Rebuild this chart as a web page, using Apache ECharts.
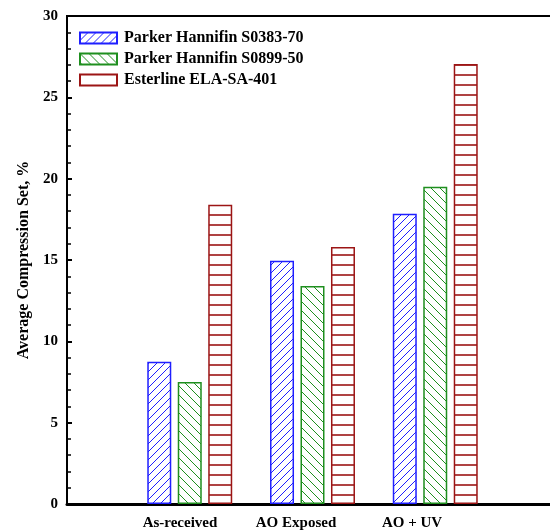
<!DOCTYPE html>
<html>
<head>
<meta charset="utf-8">
<script src="https://cdn.jsdelivr.net/npm/echarts@6/dist/echarts.min.js"></script>
<style>html,body{margin:0;padding:0;background:#fff}#c{width:550px;height:531px}</style>
</head>
<body>
<div id="c"></div>
<script>
const categories = ['As-received', 'AO Exposed', 'AO + UV'];
const seriesNames = ['Parker Hannifin S0383-70', 'Parker Hannifin S0899-50', 'Esterline ELA-SA-401'];
const parkerS0383 = [8.75, 14.95, 17.85];
const parkerS0899 = [7.5, 13.4, 19.5];
const esterline = [18.4, 15.8, 27.05];
const yMin = 0, yMax = 30, yInterval = 5;

const FONT = '"Liberation Serif", "Times New Roman", serif';
const BLUE = '#1f1fff', GREEN = '#1f8f1f', RED = '#9c1515';

function hatch(kind, color) {
  const c = document.createElement('canvas');
  const ctx = c.getContext('2d');
  if (kind === 'h') {
    c.width = 4; c.height = 10;
    ctx.fillStyle = '#fff'; ctx.fillRect(0, 0, 4, 10);
    ctx.strokeStyle = color; ctx.lineWidth = 1.6;
    ctx.beginPath(); ctx.moveTo(0, 5); ctx.lineTo(4, 5); ctx.stroke();
  } else {
    const s = kind === 'f' ? 8 : 9;
    c.width = s; c.height = s;
    ctx.fillStyle = '#fff'; ctx.fillRect(0, 0, s, s);
    ctx.strokeStyle = color; ctx.lineWidth = 1;
    ctx.beginPath();
    if (kind === 'f') {
      ctx.moveTo(-1, s + 1); ctx.lineTo(s + 1, -1);
      ctx.moveTo(-1, 1); ctx.lineTo(1, -1);
      ctx.moveTo(s - 1, s + 1); ctx.lineTo(s + 1, s - 1);
    } else {
      ctx.moveTo(-1, -1); ctx.lineTo(s + 1, s + 1);
      ctx.moveTo(s - 1, -1); ctx.lineTo(s + 1, 1);
      ctx.moveTo(-1, s - 1); ctx.lineTo(1, s + 1);
    }
    ctx.stroke();
  }
  return { image: c, repeat: 'repeat' };
}

const axisCats = [''].concat(categories, ['']);
function pad(arr) { return ['-'].concat(arr, ['-']); }

const chart = echarts.init(document.getElementById('c'), null, { renderer: 'canvas' });
chart.setOption({
  backgroundColor: '#fff',
  animation: false,
  grid: [
    { left: 67, width: 491, top: 16, bottom: 27, containLabel: false, outerBoundsMode: 'none', show: true, borderColor: '#000', borderWidth: 2, backgroundColor: 'transparent' },
    { left: 64, width: 464, top: 16, bottom: 27, containLabel: false, outerBoundsMode: 'none', show: false }
  ],
  legend: {
    orient: 'vertical', left: 74, top: 25,
    icon: 'rect',
    itemWidth: 37, itemHeight: 11, itemGap: 5,
    textStyle: { fontFamily: FONT, fontWeight: 'bold', fontSize: 16, color: '#000', padding: [0, 0, 0, 2] },
    data: [
      { name: seriesNames[0] },
      { name: seriesNames[1] },
      { name: seriesNames[2], itemStyle: { color: '#fff' } }
    ]
  },
  xAxis: [
    {
      type: 'category', gridIndex: 0, data: axisCats, boundaryGap: false,
      axisLine: { lineStyle: { color: '#000', width: 3 } },
      axisTick: { show: false }, axisLabel: { show: false }, splitLine: { show: false }
    },
    {
      type: 'category', gridIndex: 1, data: axisCats, boundaryGap: false,
      axisLine: { show: false }, axisTick: { show: false }, splitLine: { show: false },
      axisLabel: { show: true, interval: 0, margin: 12, fontFamily: FONT, fontWeight: 'bold', fontSize: 15, color: '#000' }
    }
  ],
  yAxis: [
    {
      type: 'value', gridIndex: 0, min: yMin, max: yMax, interval: yInterval,
      name: 'Average Compression Set, %', nameLocation: 'middle', nameGap: 32, nameRotate: 90,
      nameTextStyle: { fontFamily: FONT, fontWeight: 'bold', fontSize: 16, color: '#000' },
      axisLine: { show: true, lineStyle: { color: '#000', width: 2 } },
      axisTick: { show: true, inside: true, length: 5, lineStyle: { color: '#000', width: 2 } },
      minorTick: { show: true, splitNumber: 5, length: 4, lineStyle: { color: '#000', width: 1.5 } },
      axisLabel: { margin: 9, fontFamily: FONT, fontWeight: 'bold', fontSize: 15, color: '#000' },
      splitLine: { show: false }
    },
    {
      type: 'value', gridIndex: 1, min: yMin, max: yMax, show: false
    }
  ],
  series: [
    {
      name: seriesNames[0], type: 'bar', xAxisIndex: 0, yAxisIndex: 0, data: pad(parkerS0383),
      barWidth: 24, barGap: '27%',
      itemStyle: { color: hatch('f', BLUE), borderColor: BLUE, borderWidth: 1.5 }
    },
    {
      name: seriesNames[1], type: 'bar', xAxisIndex: 0, yAxisIndex: 0, data: pad(parkerS0899),
      barWidth: 24, barGap: '27%',
      itemStyle: { color: hatch('b', GREEN), borderColor: GREEN, borderWidth: 1.5 }
    },
    {
      name: seriesNames[2], type: 'bar', xAxisIndex: 0, yAxisIndex: 0, data: pad(esterline),
      barWidth: 24, barGap: '27%',
      itemStyle: { color: hatch('h', RED), borderColor: RED, borderWidth: 1.5 }
    }
  ]
});
</script>
</body>
</html>
